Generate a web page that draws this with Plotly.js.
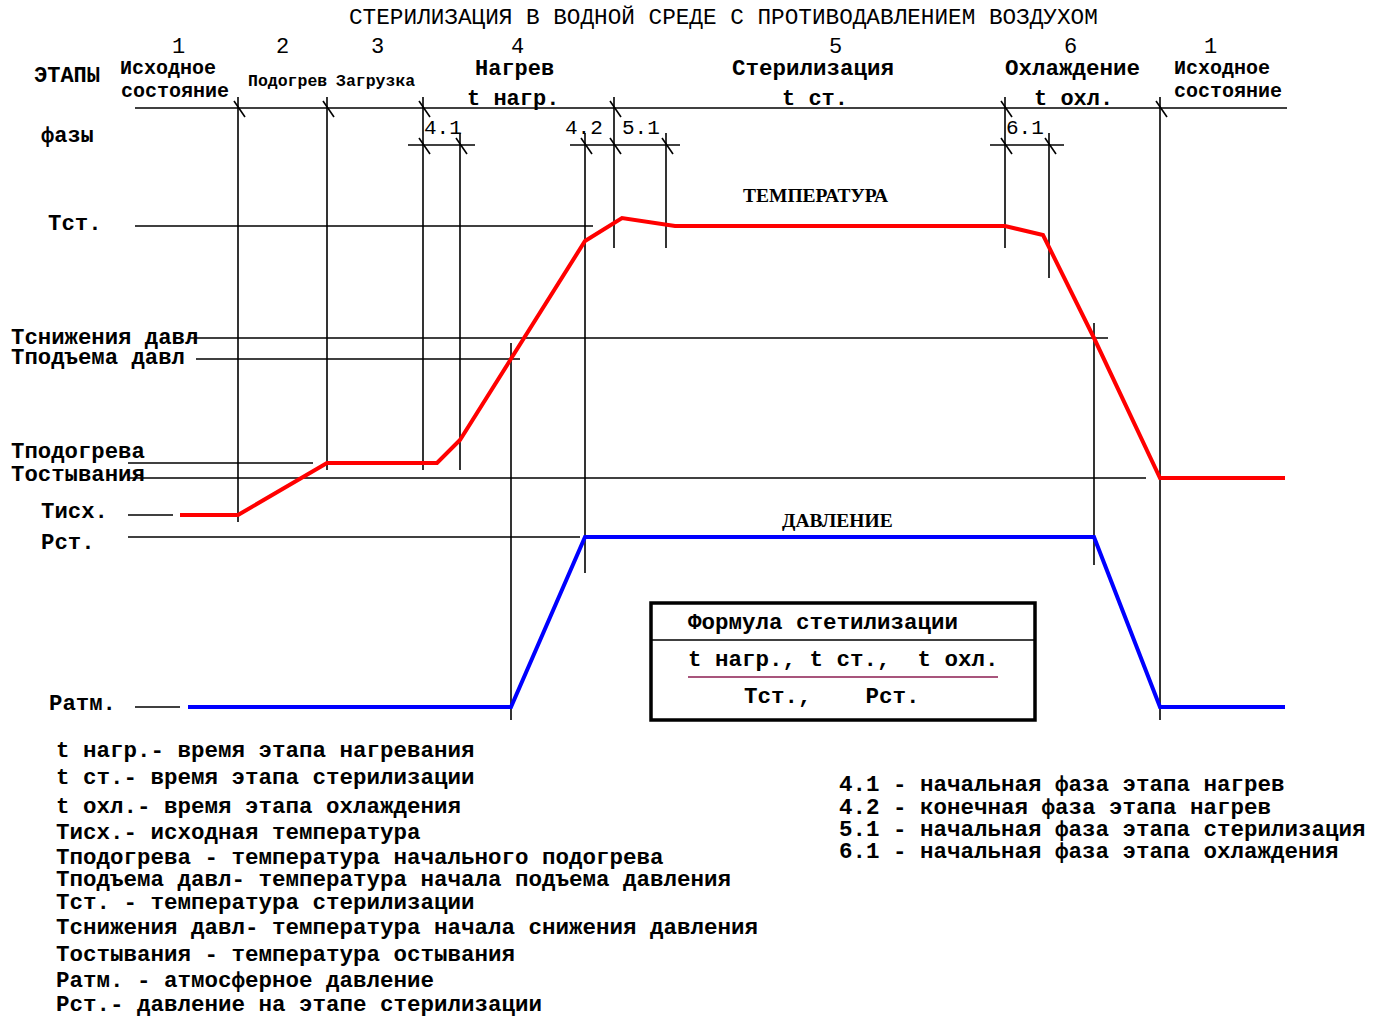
<!DOCTYPE html>
<html><head><meta charset="utf-8">
<script src="https://cdn.plot.ly/plotly-3.0.1.min.js"></script>
<style>html,body{margin:0;padding:0;background:#fff}#chart{width:1382px;height:1018px}</style>
</head><body><div id="chart"></div>
<script>
const chartTitle = 'СТЕРИЛИЗАЦИЯ В ВОДНОЙ СРЕДЕ С ПРОТИВОДАВЛЕНИЕМ ВОЗДУХОМ';

// Temperature curve (schematic time, schematic level)
const tempTime  = [180, 238, 327, 437, 460, 511, 585, 622, 675, 1005, 1043, 1094, 1160, 1285];
const tempLevel = [515, 515, 463, 463, 440, 359, 241, 218, 226, 226, 235, 338, 478, 478];
// Pressure curve
const presTime  = [188, 511, 585, 1094, 1160, 1285];
const presLevel = [707, 707, 537, 537, 707, 707];

// Reference levels
const levelNames  = ['Тст.', 'Тснижения давл', 'Тподъема давл', 'Тподогрева', 'Тостывания', 'Тисх.', 'Рст.', 'Ратм.'];
const levelValue  = [226, 338, 359, 463, 478, 515, 537, 707];
const levelLabelX = [46, 9, 9, 9, 9, 39, 39, 47];
const levelLabelY = [224, 338, 358, 452, 475, 512, 543, 704];
const levelFrom   = [135, 190, 196, 128, 128, 128, 128, 135];
const levelTo     = [593, 1108, 520, 313, 1146, 173, 580, 180];

// Time marks (vertical boundary lines)
const markTime = [238, 327, 423, 460, 511, 585, 614, 666, 1005, 1049, 1094, 1160];
const markFrom = [97, 97, 97, 133, 343, 133, 97, 133, 97, 133, 323, 97];
const markTo   = [522, 470, 470, 470, 720, 573, 248, 248, 248, 278, 565, 720];

// Stage and phase axes
const stageAxis = {level: 108, from: 135, to: 1287};
const stageTicks = [238, 327, 423, 614, 1005, 1160];
const phaseLevel = 145;
const phaseFrom = [408, 570, 990];
const phaseTo   = [475, 680, 1064];
const phaseTicks = [423, 460, 585, 614, 666, 1005, 1049];

// Stage labels
const stageNums  = ['1', '2', '3', '4', '5', '6', '1'];
const stageNumX  = [178, 282, 377, 517, 835, 1070, 1210];
const stageNames = ['Исходное', 'состояние', 'Подогрев', 'Загрузка', 'Нагрев', 'Стерилизация', 'Охлаждение', 'Исходное', 'состояние'];
const stageNameX = [168, 175, 287, 375, 514, 813, 1072, 1222, 1228];
const stageNameY = [68, 91, 81, 81, 69, 69, 69, 68, 91];
const stageNameSize = [20, 20, 16.5, 16.5, 22, 22.5, 22.5, 20, 20];
const durNames = ['t нагр.', 't ст.', 't охл.'];
const durX = [513, 815, 1073];
const phaseNames = ['4.1', '4.2', '5.1', '6.1'];
const phaseNameX = [443, 584, 641, 1025];

// Formula box
const formulaTitle = 'Формула стетилизации';
const formulaTop = 't нагр., t ст.,\u00a0\u00a0t охл.';
const formulaBottom = 'Тст.,\u00a0\u00a0\u00a0\u00a0Рст.';

// Legends
const legendLeft = [
  't нагр.- время этапа нагревания',
  't ст.- время этапа стерилизации',
  't охл.- время этапа охлаждения',
  'Тисх.- исходная температура',
  'Тподогрева - температура начального подогрева',
  'Тподъема давл- температура начала подъема давления',
  'Тст. - температура стерилизации',
  'Тснижения давл- температура начала снижения давления',
  'Тостывания - температура остывания',
  'Ратм. - атмосферное давление',
  'Рст.- давление на этапе стерилизации'
];
const legendLeftY = [751, 778, 807, 833, 858, 880, 903, 928, 955, 981, 1005];
const legendRight = [
  '4.1 - начальная фаза этапа нагрев',
  '4.2 - конечная фаза этапа нагрев',
  '5.1 - начальная фаза этапа стерилизация',
  '6.1 - начальная фаза этапа охлаждения'
];
const legendRightY = [785, 808, 830, 852];

// ---------- build ----------
const MONO = 'Liberation Mono, Courier New, monospace';
const SERIF = 'Liberation Serif, Times New Roman, serif';
const bx = [], by = [];
function seg(x0, y0, x1, y1) { bx.push(x0, x1, null); by.push(y0, y1, null); }

seg(stageAxis.from, stageAxis.level, stageAxis.to, stageAxis.level);
phaseFrom.forEach((f, i) => seg(f, phaseLevel, phaseTo[i], phaseLevel));
markTime.forEach((x, i) => seg(x, markFrom[i], x, markTo[i]));
levelValue.forEach((y, i) => seg(levelFrom[i], y, levelTo[i], y));
stageTicks.forEach(x => seg(x - 4, stageAxis.level - 7, x + 7, stageAxis.level + 9));
phaseTicks.forEach(x => seg(x - 4, phaseLevel - 7, x + 7, phaseLevel + 9));

const traces = [
  {x: bx, y: by, mode: 'lines', line: {color: '#000', width: 1.6}, hoverinfo: 'skip'},
  {x: tempTime, y: tempLevel, mode: 'lines', line: {color: '#ff0000', width: 4}, hoverinfo: 'skip'},
  {x: presTime, y: presLevel, mode: 'lines', line: {color: '#0000ff', width: 4}, hoverinfo: 'skip'}
];

const ann = [];
function A(text, x, y, size, anchor, bold, family, color) {
  ann.push({text: bold ? '<b>' + text + '</b>' : text, x: x, y: y, xref: 'x', yref: 'y',
    showarrow: false, xanchor: anchor || 'left', yanchor: 'middle',
    font: {family: family || MONO, size: size, color: color || '#000'}});
}
A(chartTitle, 723, 18, 22.7, 'center', false);
A('ЭТАПЫ', 32, 76, 22, 'left', true);
A('фазы', 39, 136, 22, 'left', true);
levelNames.forEach((n, i) => A(n, levelLabelX[i], levelLabelY[i], 22.3, 'left', true));
stageNums.forEach((n, i) => A(n, stageNumX[i], 47, 22, 'center', false));
stageNames.forEach((n, i) => A(n, stageNameX[i], stageNameY[i], stageNameSize[i], 'center', true));
durNames.forEach((n, i) => A(n, durX[i], 99, 22, 'center', true));
phaseNames.forEach((n, i) => A(n, phaseNameX[i], 128, 21, 'center', false));
A('ТЕМПЕРАТУРА', 815, 195, 19.5, 'center', true, SERIF);
A('ДАВЛЕНИЕ', 837, 520, 19.5, 'center', true, SERIF);
A(formulaTitle, 823, 623, 22.5, 'center', true);
A(formulaTop, 843, 660, 22.5, 'center', true);
A(formulaBottom, 832, 697, 22.5, 'center', true);
legendLeft.forEach((t, i) => A(t, 54, legendLeftY[i], 22.5, 'left', true));
legendRight.forEach((t, i) => A(t, 837, legendRightY[i], 22.5, 'left', true));

const shapes = [
  {type: 'rect', xref: 'x', yref: 'y', x0: 651, x1: 1035, y0: 603, y1: 720, line: {color: '#000', width: 3.5}},
  {type: 'line', xref: 'x', yref: 'y', x0: 651, x1: 1035, y0: 640, y1: 640, line: {color: '#000', width: 1.6}},
  {type: 'line', xref: 'x', yref: 'y', x0: 688, x1: 998, y0: 677, y1: 677, line: {color: '#8b1c50', width: 1.6}}
];

const layout = {
  width: 1382, height: 1018,
  margin: {l: 0, r: 0, t: 0, b: 0},
  paper_bgcolor: '#fff', plot_bgcolor: '#fff',
  showlegend: false,
  xaxis: {range: [0, 1382], visible: false, fixedrange: true},
  yaxis: {range: [1018, 0], visible: false, fixedrange: true},
  annotations: ann, shapes: shapes
};
Plotly.newPlot('chart', traces, layout, {staticPlot: true, displayModeBar: false});
</script></body></html>
